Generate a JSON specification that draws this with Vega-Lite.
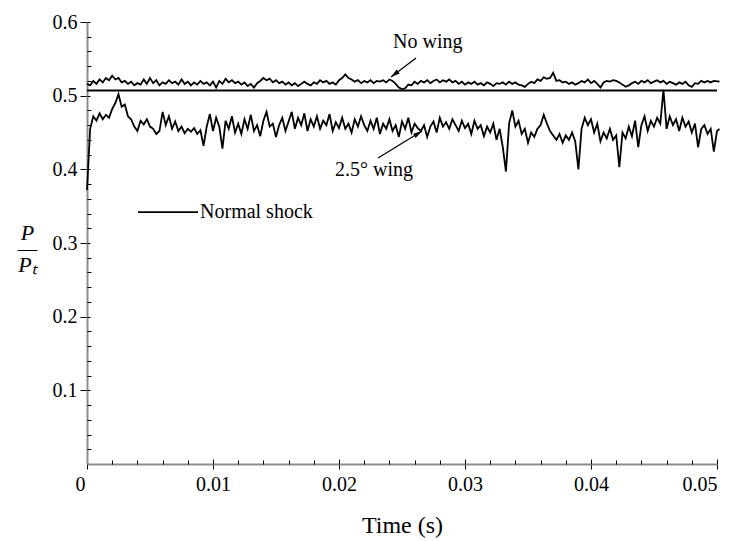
{
"$schema":"https://vega.github.io/schema/vega-lite/v6.json",
"width":630,"height":442,
"autosize":{"type":"none"},
"padding":{"left":87,"top":22,"right":21,"bottom":77},
"background":"white",
"config":{"view":{"stroke":null},"font":"Liberation Serif",
 "axis":{"grid":false,"domainColor":"#8c8c8c","domainWidth":2,"tickColor":"black","tickWidth":1,"labelFont":"Liberation Serif","titleFont":"Liberation Serif","labelColor":"black","titleColor":"black","labelFontSize":20,"titleFontWeight":"normal"}},
"datasets":{
"curves":[
{"s":"k","t":0,"p":0.507},{"s":"k","t":0.05,"p":0.507},
{"s":"w","t":0,"p":0.372},{"s":"w","t":0.00025,"p":0.455},{"s":"w","t":0.0005,"p":0.472},{"s":"w","t":0.00075,"p":0.466},{"s":"w","t":0.001,"p":0.476},{"s":"w","t":0.00125,"p":0.468},{"s":"w","t":0.0015,"p":0.474},{"s":"w","t":0.00175,"p":0.47},{"s":"w","t":0.002,"p":0.482},{"s":"w","t":0.00225,"p":0.49},{"s":"w","t":0.0025,"p":0.502},{"s":"w","t":0.00275,"p":0.485},{"s":"w","t":0.003,"p":0.488},{"s":"w","t":0.00325,"p":0.472},{"s":"w","t":0.0035,"p":0.468},{"s":"w","t":0.00375,"p":0.458},{"s":"w","t":0.004,"p":0.452},{"s":"w","t":0.00425,"p":0.466},{"s":"w","t":0.0045,"p":0.461},{"s":"w","t":0.00475,"p":0.468},{"s":"w","t":0.005,"p":0.458},{"s":"w","t":0.00525,"p":0.455},{"s":"w","t":0.0055,"p":0.448},{"s":"w","t":0.00575,"p":0.452},{"s":"w","t":0.006,"p":0.478},{"s":"w","t":0.00625,"p":0.46},{"s":"w","t":0.0065,"p":0.472},{"s":"w","t":0.00675,"p":0.455},{"s":"w","t":0.007,"p":0.465},{"s":"w","t":0.00725,"p":0.452},{"s":"w","t":0.0075,"p":0.458},{"s":"w","t":0.00775,"p":0.449},{"s":"w","t":0.008,"p":0.455},{"s":"w","t":0.00825,"p":0.451},{"s":"w","t":0.0085,"p":0.456},{"s":"w","t":0.00875,"p":0.448},{"s":"w","t":0.009,"p":0.453},{"s":"w","t":0.00925,"p":0.432},{"s":"w","t":0.0095,"p":0.458},{"s":"w","t":0.00975,"p":0.475},{"s":"w","t":0.01,"p":0.452},{"s":"w","t":0.01025,"p":0.47},{"s":"w","t":0.0105,"p":0.458},{"s":"w","t":0.01075,"p":0.428},{"s":"w","t":0.011,"p":0.466},{"s":"w","t":0.01125,"p":0.455},{"s":"w","t":0.0115,"p":0.472},{"s":"w","t":0.01175,"p":0.45},{"s":"w","t":0.012,"p":0.462},{"s":"w","t":0.01225,"p":0.448},{"s":"w","t":0.0125,"p":0.468},{"s":"w","t":0.01275,"p":0.455},{"s":"w","t":0.013,"p":0.474},{"s":"w","t":0.01325,"p":0.452},{"s":"w","t":0.0135,"p":0.46},{"s":"w","t":0.01375,"p":0.445},{"s":"w","t":0.014,"p":0.466},{"s":"w","t":0.01425,"p":0.478},{"s":"w","t":0.0145,"p":0.458},{"s":"w","t":0.01475,"p":0.462},{"s":"w","t":0.015,"p":0.444},{"s":"w","t":0.01525,"p":0.46},{"s":"w","t":0.0155,"p":0.47},{"s":"w","t":0.01575,"p":0.452},{"s":"w","t":0.016,"p":0.465},{"s":"w","t":0.01625,"p":0.478},{"s":"w","t":0.0165,"p":0.455},{"s":"w","t":0.01675,"p":0.47},{"s":"w","t":0.017,"p":0.46},{"s":"w","t":0.01725,"p":0.476},{"s":"w","t":0.0175,"p":0.452},{"s":"w","t":0.01775,"p":0.468},{"s":"w","t":0.018,"p":0.458},{"s":"w","t":0.01825,"p":0.472},{"s":"w","t":0.0185,"p":0.455},{"s":"w","t":0.01875,"p":0.466},{"s":"w","t":0.019,"p":0.46},{"s":"w","t":0.01925,"p":0.475},{"s":"w","t":0.0195,"p":0.452},{"s":"w","t":0.01975,"p":0.464},{"s":"w","t":0.02,"p":0.456},{"s":"w","t":0.02025,"p":0.47},{"s":"w","t":0.0205,"p":0.455},{"s":"w","t":0.02075,"p":0.462},{"s":"w","t":0.021,"p":0.45},{"s":"w","t":0.02125,"p":0.468},{"s":"w","t":0.0215,"p":0.458},{"s":"w","t":0.02175,"p":0.472},{"s":"w","t":0.022,"p":0.46},{"s":"w","t":0.02225,"p":0.452},{"s":"w","t":0.0225,"p":0.466},{"s":"w","t":0.02275,"p":0.455},{"s":"w","t":0.023,"p":0.47},{"s":"w","t":0.02325,"p":0.448},{"s":"w","t":0.0235,"p":0.462},{"s":"w","t":0.02375,"p":0.455},{"s":"w","t":0.024,"p":0.468},{"s":"w","t":0.02425,"p":0.452},{"s":"w","t":0.0245,"p":0.46},{"s":"w","t":0.02475,"p":0.444},{"s":"w","t":0.025,"p":0.465},{"s":"w","t":0.02525,"p":0.455},{"s":"w","t":0.0255,"p":0.47},{"s":"w","t":0.02575,"p":0.45},{"s":"w","t":0.026,"p":0.462},{"s":"w","t":0.02625,"p":0.456},{"s":"w","t":0.0265,"p":0.452},{"s":"w","t":0.02675,"p":0.46},{"s":"w","t":0.027,"p":0.444},{"s":"w","t":0.02725,"p":0.458},{"s":"w","t":0.0275,"p":0.465},{"s":"w","t":0.02775,"p":0.45},{"s":"w","t":0.028,"p":0.47},{"s":"w","t":0.02825,"p":0.458},{"s":"w","t":0.0285,"p":0.464},{"s":"w","t":0.02875,"p":0.455},{"s":"w","t":0.029,"p":0.468},{"s":"w","t":0.02925,"p":0.46},{"s":"w","t":0.0295,"p":0.452},{"s":"w","t":0.02975,"p":0.466},{"s":"w","t":0.03,"p":0.456},{"s":"w","t":0.03025,"p":0.462},{"s":"w","t":0.0305,"p":0.448},{"s":"w","t":0.03075,"p":0.466},{"s":"w","t":0.031,"p":0.455},{"s":"w","t":0.03125,"p":0.46},{"s":"w","t":0.0315,"p":0.445},{"s":"w","t":0.03175,"p":0.458},{"s":"w","t":0.032,"p":0.45},{"s":"w","t":0.03225,"p":0.462},{"s":"w","t":0.0325,"p":0.44},{"s":"w","t":0.03275,"p":0.455},{"s":"w","t":0.033,"p":0.43},{"s":"w","t":0.03325,"p":0.397},{"s":"w","t":0.0335,"p":0.462},{"s":"w","t":0.03375,"p":0.48},{"s":"w","t":0.034,"p":0.458},{"s":"w","t":0.03425,"p":0.466},{"s":"w","t":0.0345,"p":0.448},{"s":"w","t":0.03475,"p":0.455},{"s":"w","t":0.035,"p":0.436},{"s":"w","t":0.03525,"p":0.45},{"s":"w","t":0.0355,"p":0.444},{"s":"w","t":0.03575,"p":0.455},{"s":"w","t":0.036,"p":0.46},{"s":"w","t":0.03625,"p":0.474},{"s":"w","t":0.0365,"p":0.462},{"s":"w","t":0.03675,"p":0.452},{"s":"w","t":0.037,"p":0.446},{"s":"w","t":0.03725,"p":0.44},{"s":"w","t":0.0375,"p":0.448},{"s":"w","t":0.03775,"p":0.436},{"s":"w","t":0.038,"p":0.446},{"s":"w","t":0.03825,"p":0.44},{"s":"w","t":0.0385,"p":0.45},{"s":"w","t":0.03875,"p":0.438},{"s":"w","t":0.039,"p":0.4},{"s":"w","t":0.03925,"p":0.455},{"s":"w","t":0.0395,"p":0.47},{"s":"w","t":0.03975,"p":0.46},{"s":"w","t":0.04,"p":0.468},{"s":"w","t":0.04025,"p":0.45},{"s":"w","t":0.0405,"p":0.462},{"s":"w","t":0.04075,"p":0.438},{"s":"w","t":0.041,"p":0.45},{"s":"w","t":0.04125,"p":0.442},{"s":"w","t":0.0415,"p":0.455},{"s":"w","t":0.04175,"p":0.44},{"s":"w","t":0.042,"p":0.446},{"s":"w","t":0.04225,"p":0.403},{"s":"w","t":0.0425,"p":0.45},{"s":"w","t":0.04275,"p":0.442},{"s":"w","t":0.043,"p":0.458},{"s":"w","t":0.04325,"p":0.445},{"s":"w","t":0.0435,"p":0.466},{"s":"w","t":0.04375,"p":0.43},{"s":"w","t":0.044,"p":0.46},{"s":"w","t":0.04425,"p":0.472},{"s":"w","t":0.0445,"p":0.452},{"s":"w","t":0.04475,"p":0.466},{"s":"w","t":0.045,"p":0.458},{"s":"w","t":0.04525,"p":0.47},{"s":"w","t":0.0455,"p":0.462},{"s":"w","t":0.04575,"p":0.508},{"s":"w","t":0.046,"p":0.455},{"s":"w","t":0.04625,"p":0.472},{"s":"w","t":0.0465,"p":0.46},{"s":"w","t":0.04675,"p":0.468},{"s":"w","t":0.047,"p":0.452},{"s":"w","t":0.04725,"p":0.47},{"s":"w","t":0.0475,"p":0.458},{"s":"w","t":0.04775,"p":0.465},{"s":"w","t":0.048,"p":0.45},{"s":"w","t":0.04825,"p":0.462},{"s":"w","t":0.0485,"p":0.43},{"s":"w","t":0.04875,"p":0.455},{"s":"w","t":0.049,"p":0.46},{"s":"w","t":0.04925,"p":0.448},{"s":"w","t":0.0495,"p":0.455},{"s":"w","t":0.04975,"p":0.424},{"s":"w","t":0.05,"p":0.452},{"s":"w","t":0.0502,"p":0.455},
{"s":"n","t":0,"p":0.516},{"s":"n","t":0.00025,"p":0.514},{"s":"n","t":0.0005,"p":0.52},{"s":"n","t":0.00075,"p":0.516},{"s":"n","t":0.001,"p":0.522},{"s":"n","t":0.00125,"p":0.518},{"s":"n","t":0.0015,"p":0.524},{"s":"n","t":0.00175,"p":0.521},{"s":"n","t":0.002,"p":0.527},{"s":"n","t":0.00225,"p":0.522},{"s":"n","t":0.0025,"p":0.524},{"s":"n","t":0.00275,"p":0.518},{"s":"n","t":0.003,"p":0.52},{"s":"n","t":0.00325,"p":0.516},{"s":"n","t":0.0035,"p":0.519},{"s":"n","t":0.00375,"p":0.514},{"s":"n","t":0.004,"p":0.517},{"s":"n","t":0.00425,"p":0.515},{"s":"n","t":0.0045,"p":0.522},{"s":"n","t":0.00475,"p":0.516},{"s":"n","t":0.005,"p":0.524},{"s":"n","t":0.00525,"p":0.517},{"s":"n","t":0.0055,"p":0.521},{"s":"n","t":0.00575,"p":0.514},{"s":"n","t":0.006,"p":0.518},{"s":"n","t":0.00625,"p":0.516},{"s":"n","t":0.0065,"p":0.521},{"s":"n","t":0.00675,"p":0.517},{"s":"n","t":0.007,"p":0.519},{"s":"n","t":0.00725,"p":0.515},{"s":"n","t":0.0075,"p":0.522},{"s":"n","t":0.00775,"p":0.516},{"s":"n","t":0.008,"p":0.519},{"s":"n","t":0.00825,"p":0.514},{"s":"n","t":0.0085,"p":0.518},{"s":"n","t":0.00875,"p":0.515},{"s":"n","t":0.009,"p":0.52},{"s":"n","t":0.00925,"p":0.516},{"s":"n","t":0.0095,"p":0.518},{"s":"n","t":0.00975,"p":0.514},{"s":"n","t":0.01,"p":0.519},{"s":"n","t":0.01025,"p":0.511},{"s":"n","t":0.0105,"p":0.52},{"s":"n","t":0.01075,"p":0.516},{"s":"n","t":0.011,"p":0.523},{"s":"n","t":0.01125,"p":0.518},{"s":"n","t":0.0115,"p":0.521},{"s":"n","t":0.01175,"p":0.517},{"s":"n","t":0.012,"p":0.519},{"s":"n","t":0.01225,"p":0.515},{"s":"n","t":0.0125,"p":0.518},{"s":"n","t":0.01275,"p":0.513},{"s":"n","t":0.013,"p":0.516},{"s":"n","t":0.01325,"p":0.511},{"s":"n","t":0.0135,"p":0.517},{"s":"n","t":0.01375,"p":0.52},{"s":"n","t":0.014,"p":0.524},{"s":"n","t":0.01425,"p":0.521},{"s":"n","t":0.0145,"p":0.523},{"s":"n","t":0.01475,"p":0.518},{"s":"n","t":0.015,"p":0.521},{"s":"n","t":0.01525,"p":0.517},{"s":"n","t":0.0155,"p":0.519},{"s":"n","t":0.01575,"p":0.515},{"s":"n","t":0.016,"p":0.518},{"s":"n","t":0.01625,"p":0.514},{"s":"n","t":0.0165,"p":0.517},{"s":"n","t":0.01675,"p":0.513},{"s":"n","t":0.017,"p":0.516},{"s":"n","t":0.01725,"p":0.519},{"s":"n","t":0.0175,"p":0.516},{"s":"n","t":0.01775,"p":0.514},{"s":"n","t":0.018,"p":0.518},{"s":"n","t":0.01825,"p":0.516},{"s":"n","t":0.0185,"p":0.521},{"s":"n","t":0.01875,"p":0.518},{"s":"n","t":0.019,"p":0.52},{"s":"n","t":0.01925,"p":0.516},{"s":"n","t":0.0195,"p":0.518},{"s":"n","t":0.01975,"p":0.515},{"s":"n","t":0.02,"p":0.521},{"s":"n","t":0.02025,"p":0.524},{"s":"n","t":0.0205,"p":0.529},{"s":"n","t":0.02075,"p":0.524},{"s":"n","t":0.021,"p":0.522},{"s":"n","t":0.02125,"p":0.519},{"s":"n","t":0.0215,"p":0.521},{"s":"n","t":0.02175,"p":0.517},{"s":"n","t":0.022,"p":0.52},{"s":"n","t":0.02225,"p":0.518},{"s":"n","t":0.0225,"p":0.521},{"s":"n","t":0.02275,"p":0.517},{"s":"n","t":0.023,"p":0.52},{"s":"n","t":0.02325,"p":0.519},{"s":"n","t":0.0235,"p":0.521},{"s":"n","t":0.02375,"p":0.518},{"s":"n","t":0.024,"p":0.522},{"s":"n","t":0.02425,"p":0.52},{"s":"n","t":0.0245,"p":0.516},{"s":"n","t":0.02475,"p":0.511},{"s":"n","t":0.025,"p":0.509},{"s":"n","t":0.02525,"p":0.51},{"s":"n","t":0.0255,"p":0.515},{"s":"n","t":0.02575,"p":0.514},{"s":"n","t":0.026,"p":0.519},{"s":"n","t":0.02625,"p":0.516},{"s":"n","t":0.0265,"p":0.52},{"s":"n","t":0.02675,"p":0.518},{"s":"n","t":0.027,"p":0.521},{"s":"n","t":0.02725,"p":0.517},{"s":"n","t":0.0275,"p":0.52},{"s":"n","t":0.02775,"p":0.522},{"s":"n","t":0.028,"p":0.518},{"s":"n","t":0.02825,"p":0.521},{"s":"n","t":0.0285,"p":0.519},{"s":"n","t":0.02875,"p":0.522},{"s":"n","t":0.029,"p":0.518},{"s":"n","t":0.02925,"p":0.52},{"s":"n","t":0.0295,"p":0.516},{"s":"n","t":0.02975,"p":0.519},{"s":"n","t":0.03,"p":0.515},{"s":"n","t":0.03025,"p":0.518},{"s":"n","t":0.0305,"p":0.516},{"s":"n","t":0.03075,"p":0.519},{"s":"n","t":0.031,"p":0.515},{"s":"n","t":0.03125,"p":0.517},{"s":"n","t":0.0315,"p":0.514},{"s":"n","t":0.03175,"p":0.518},{"s":"n","t":0.032,"p":0.516},{"s":"n","t":0.03225,"p":0.513},{"s":"n","t":0.0325,"p":0.517},{"s":"n","t":0.03275,"p":0.516},{"s":"n","t":0.033,"p":0.518},{"s":"n","t":0.03325,"p":0.515},{"s":"n","t":0.0335,"p":0.519},{"s":"n","t":0.03375,"p":0.516},{"s":"n","t":0.034,"p":0.518},{"s":"n","t":0.03425,"p":0.515},{"s":"n","t":0.0345,"p":0.514},{"s":"n","t":0.03475,"p":0.512},{"s":"n","t":0.035,"p":0.516},{"s":"n","t":0.03525,"p":0.519},{"s":"n","t":0.0355,"p":0.517},{"s":"n","t":0.03575,"p":0.522},{"s":"n","t":0.036,"p":0.52},{"s":"n","t":0.03625,"p":0.525},{"s":"n","t":0.0365,"p":0.523},{"s":"n","t":0.03675,"p":0.524},{"s":"n","t":0.037,"p":0.531},{"s":"n","t":0.03725,"p":0.52},{"s":"n","t":0.0375,"p":0.521},{"s":"n","t":0.03775,"p":0.518},{"s":"n","t":0.038,"p":0.519},{"s":"n","t":0.03825,"p":0.516},{"s":"n","t":0.0385,"p":0.518},{"s":"n","t":0.03875,"p":0.515},{"s":"n","t":0.039,"p":0.517},{"s":"n","t":0.03925,"p":0.52},{"s":"n","t":0.0395,"p":0.518},{"s":"n","t":0.03975,"p":0.522},{"s":"n","t":0.04,"p":0.517},{"s":"n","t":0.04025,"p":0.52},{"s":"n","t":0.0405,"p":0.516},{"s":"n","t":0.04075,"p":0.511},{"s":"n","t":0.041,"p":0.518},{"s":"n","t":0.04125,"p":0.52},{"s":"n","t":0.0415,"p":0.519},{"s":"n","t":0.04175,"p":0.521},{"s":"n","t":0.042,"p":0.52},{"s":"n","t":0.04225,"p":0.518},{"s":"n","t":0.0425,"p":0.515},{"s":"n","t":0.04275,"p":0.512},{"s":"n","t":0.043,"p":0.514},{"s":"n","t":0.04325,"p":0.517},{"s":"n","t":0.0435,"p":0.519},{"s":"n","t":0.04375,"p":0.516},{"s":"n","t":0.044,"p":0.52},{"s":"n","t":0.04425,"p":0.518},{"s":"n","t":0.0445,"p":0.521},{"s":"n","t":0.04475,"p":0.517},{"s":"n","t":0.045,"p":0.519},{"s":"n","t":0.04525,"p":0.521},{"s":"n","t":0.0455,"p":0.518},{"s":"n","t":0.04575,"p":0.52},{"s":"n","t":0.046,"p":0.516},{"s":"n","t":0.04625,"p":0.519},{"s":"n","t":0.0465,"p":0.517},{"s":"n","t":0.04675,"p":0.515},{"s":"n","t":0.047,"p":0.518},{"s":"n","t":0.04725,"p":0.516},{"s":"n","t":0.0475,"p":0.519},{"s":"n","t":0.04775,"p":0.514},{"s":"n","t":0.048,"p":0.512},{"s":"n","t":0.04825,"p":0.517},{"s":"n","t":0.0485,"p":0.516},{"s":"n","t":0.04875,"p":0.52},{"s":"n","t":0.049,"p":0.518},{"s":"n","t":0.04925,"p":0.52},{"s":"n","t":0.0495,"p":0.518},{"s":"n","t":0.04975,"p":0.52},{"s":"n","t":0.0502,"p":0.519}
],
"legend":[{"t":0.00405,"t2":0.00881,"p":0.342}],
"ann":[{"t":0.02429,"p":0.5728,"label":"No wing"},{"t":0.01968,"p":0.399,"label":"2.5° wing"},{"t":0.00897,"p":0.342,"label":"Normal shock"}],
"arrows":[{"t":0.02611,"p":0.5511,"t2":0.02413,"p2":0.5253},{"t":0.0231,"p":0.4154,"t2":0.02659,"p2":0.452}],
"headA":[{"t":0.02413,"p":0.5253}],
"headB":[{"t":0.02659,"p":0.452}]
},
"resolve":{"axis":{"x":"independent","y":"independent"}},
"layer":[
{"data":{"name":"curves"},
 "mark":{"type":"line","color":"black","strokeWidth":1.8,"clip":false},
 "encoding":{
  "x":{"field":"t","type":"quantitative","scale":{"domain":[0,0.05],"nice":false,"zero":false},
   "axis":{"orient":"bottom","values":[0,0.01,0.02,0.03,0.04,0.05],"format":".2~f","title":"Time (s)","tickSize":5,"labelPadding":5,"titleFontSize":24,"titlePadding":19,
   "labelOffset":{"condition":{"test":"datum.value == 0","value":-12},"value":0}}},
  "y":{"field":"p","type":"quantitative","scale":{"domain":[0,0.6],"nice":false,"zero":false},
   "axis":{"orient":"left","values":[0.1,0.2,0.3,0.4,0.5,0.6],"format":".1~f","tickSize":7,"labelPadding":3,
   "title":["P","—","Pₜ"],"titleAngle":0,"titleFontStyle":"italic","titleFontSize":22,"titleX":-60,"titleY":210,"titleAlign":"center","titleBaseline":"middle","titleLineHeight":16}},
  "detail":{"field":"s","type":"nominal"}}},
{"data":{"name":"legend"},
 "mark":{"type":"rule","color":"black","strokeWidth":1.8},
 "encoding":{
  "x":{"field":"t","type":"quantitative","scale":{"domain":[0,0.05],"nice":false,"zero":false},
   "axis":{"orient":"bottom","values":[0.002,0.004,0.006,0.008,0.012,0.014,0.016,0.018,0.022,0.024,0.026,0.028,0.032,0.034,0.036,0.038,0.042,0.044,0.046,0.048],"tickSize":-4,"labels":false,"domain":false,"title":null}},
  "x2":{"field":"t2"},
  "y":{"field":"p","type":"quantitative","scale":{"domain":[0,0.6],"nice":false,"zero":false},
   "axis":{"orient":"left","values":[0.02,0.04,0.06,0.08,0.12,0.14,0.16,0.18,0.22,0.24,0.26,0.28,0.32,0.34,0.36,0.38,0.42,0.44,0.46,0.48,0.52,0.54,0.56,0.58],"tickSize":-4,"labels":false,"domain":false,"title":null}}}},
{"data":{"name":"ann"},
 "mark":{"type":"text","align":"left","baseline":"middle","font":"Liberation Serif","fontSize":20,"color":"black"},
 "encoding":{
  "x":{"field":"t","type":"quantitative","scale":{"domain":[0,0.05],"nice":false,"zero":false},
   "axis":{"orient":"bottom","values":[0,0.01,0.02,0.03,0.04,0.05],"tickSize":-5,"labels":false,"domain":false,"title":null}},
  "y":{"field":"p","type":"quantitative","scale":{"domain":[0,0.6],"nice":false,"zero":false},
   "axis":{"orient":"left","values":[0.1,0.2,0.3,0.4,0.5,0.6],"tickSize":-3,"labels":false,"domain":false,"title":null}},
  "text":{"field":"label","type":"nominal"}}},
{"data":{"name":"arrows"},
 "mark":{"type":"rule","color":"black","strokeWidth":1.3},
 "encoding":{
  "x":{"field":"t","type":"quantitative","scale":{"domain":[0,0.05],"nice":false,"zero":false},"axis":null},
  "y":{"field":"p","type":"quantitative","scale":{"domain":[0,0.6],"nice":false,"zero":false},"axis":null},
  "x2":{"field":"t2"},"y2":{"field":"p2"}}},
{"data":{"name":"headA"},
 "mark":{"type":"point","shape":"M0,0L-0.5,1.8L0.5,1.8Z","filled":true,"color":"black","opacity":1,"size":100,"angle":232,"strokeWidth":0},
 "encoding":{
  "x":{"field":"t","type":"quantitative","scale":{"domain":[0,0.05],"nice":false,"zero":false},"axis":null},
  "y":{"field":"p","type":"quantitative","scale":{"domain":[0,0.6],"nice":false,"zero":false},"axis":null}}},
{"data":{"name":"headB"},
 "mark":{"type":"point","shape":"M0,0L-0.5,1.8L0.5,1.8Z","filled":true,"color":"black","opacity":1,"size":100,"angle":58,"strokeWidth":0},
 "encoding":{
  "x":{"field":"t","type":"quantitative","scale":{"domain":[0,0.05],"nice":false,"zero":false},"axis":null},
  "y":{"field":"p","type":"quantitative","scale":{"domain":[0,0.6],"nice":false,"zero":false},"axis":null}}}
]
}
